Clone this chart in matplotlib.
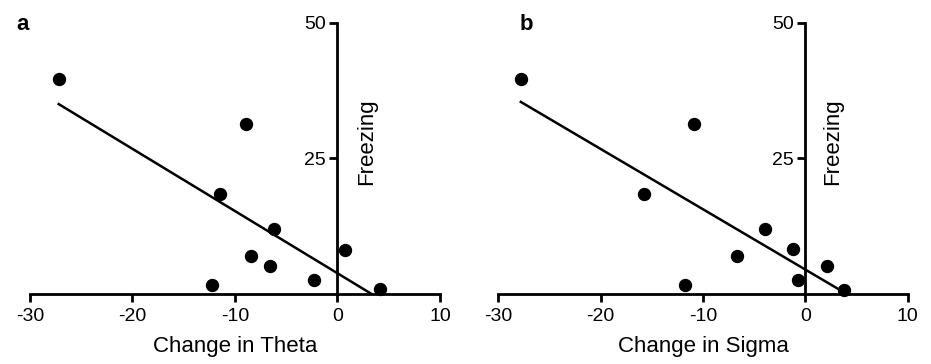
import numpy as np
import matplotlib
matplotlib.use('Agg')
import matplotlib.pyplot as plt

plt.rcParams['font.family'] = ['Liberation Sans', 'DejaVu Sans']
plt.rcParams['axes.unicode_minus'] = False

# panel a: change in theta vs freezing
theta_x = [-27.2, -8.96, -11.46, -6.16, 0.73, -8.44, -6.59, -2.3, -12.2, 4.18]
theta_y = [39.7, 31.3, 18.4, 12.0, 8.2, 7.0, 5.2, 2.5, 1.7, 0.9]
theta_fit_x = [-27.2, 3.33]
theta_fit_y = [35.0, 0.0]

# panel b: change in sigma vs freezing
sigma_x = [-27.8, -10.85, -15.77, -3.97, -1.24, -6.71, 2.08, -0.75, -11.76, 3.78]
sigma_y = [39.7, 31.3, 18.4, 12.0, 8.3, 7.0, 5.2, 2.5, 1.7, 0.8]
sigma_fit_x = [-27.8, 3.6]
sigma_fit_y = [35.4, 0.5]

x_ticks = [-30, -20, -10, 0, 10]
y_ticks = [25, 50]

fig = plt.figure(figsize=(9.31, 3.64), dpi=100)


def draw_panel(ax, xs, ys, fx, fy, xlabel, letter, letter_x, text_x):
    ax.plot(fx, fy, color='black', lw=1.8, clip_on=False, zorder=2)
    ax.plot(xs, ys, 'o', color='black', markersize=8.6, clip_on=False, zorder=3)
    ax.set_xlim(-30, 10)
    ax.set_ylim(0, 50)
    ax.spines['top'].set_visible(False)
    ax.spines['right'].set_visible(False)
    ax.spines['left'].set_position(('data', 0))
    for sp in ['left', 'bottom']:
        ax.spines[sp].set_linewidth(2.0)
    ax.set_xticks(x_ticks)
    ax.set_yticks(y_ticks)
    ax.tick_params(axis='both', width=2.0, length=5.5, labelsize=14, direction='out')
    ax.tick_params(axis='x', pad=4.5)
    ax.tick_params(axis='y', pad=3)
    ax.set_xlabel(xlabel, fontsize=16, labelpad=8)
    ax.text(text_x, 28, 'Freezing', rotation=90, ha='center', va='center', fontsize=16)
    fig.text(letter_x, 0.9176, letter, fontsize=16, fontweight='bold', ha='left', va='baseline')


ax_a = fig.add_axes([30 / 931, 70 / 364, 410 / 931, 271.3 / 364])
draw_panel(ax_a, theta_x, theta_y, theta_fit_x, theta_fit_y, 'Change in Theta', 'a', 0.0172, 2.85)

ax_b = fig.add_axes([498.3 / 931, 70 / 364, 409.4 / 931, 271.3 / 364])
draw_panel(ax_b, sigma_x, sigma_y, sigma_fit_x, sigma_fit_y, 'Change in Sigma', 'b', 0.5578, 2.7)

fig.savefig('out.png', dpi=100)
